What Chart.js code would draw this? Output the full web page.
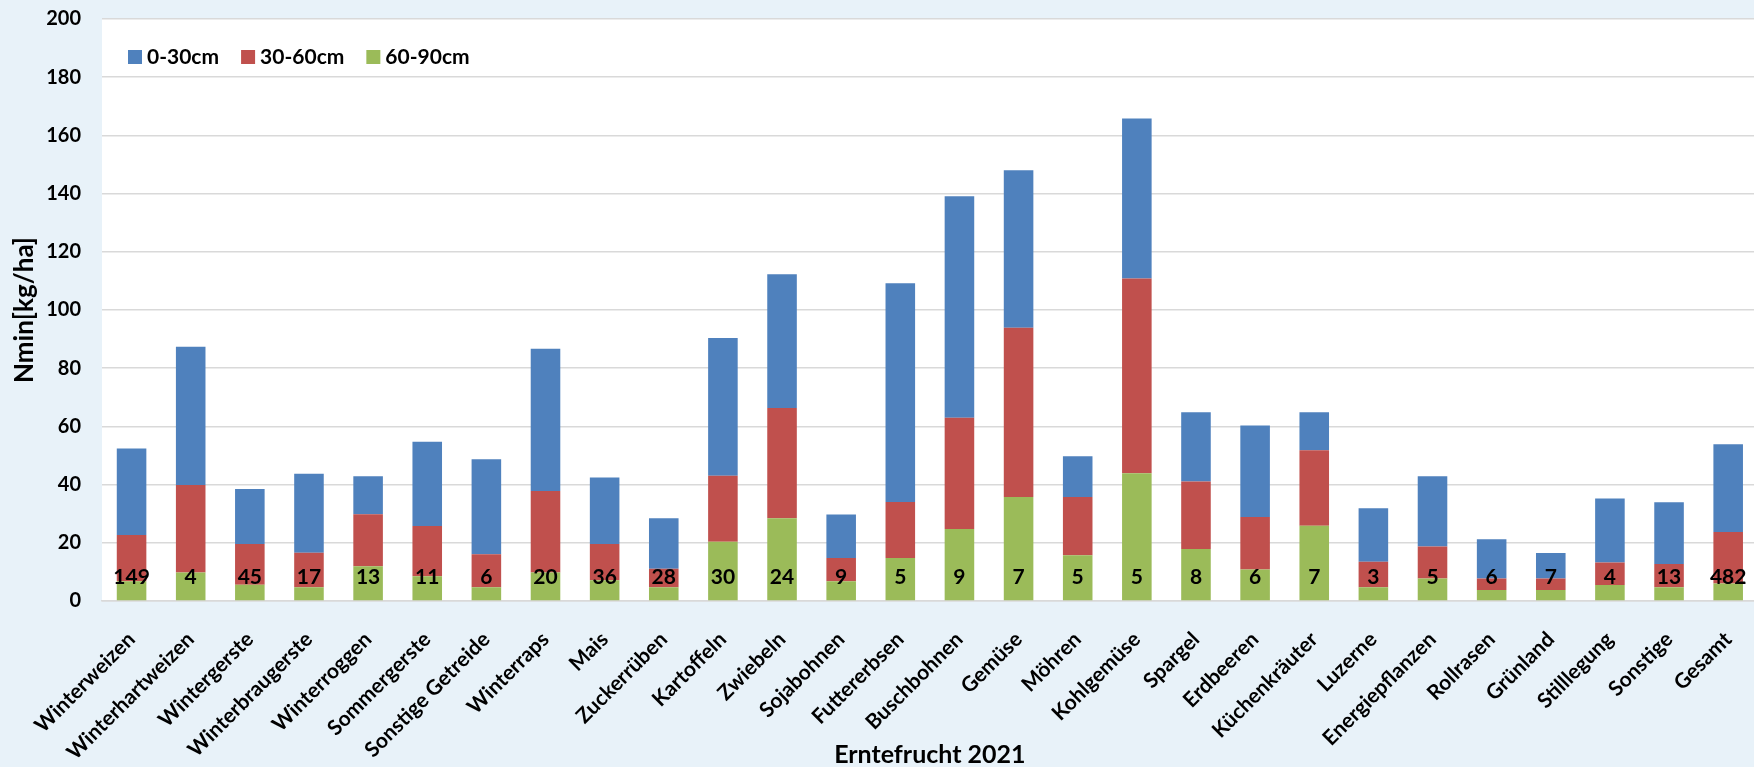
<!DOCTYPE html>
<html lang="de">
<head>
<meta charset="utf-8">
<title>Nmin Erntefrucht 2021</title>
<script src="https://cdn.jsdelivr.net/npm/chart.js@4.4.1/dist/chart.umd.min.js"></script>
<style>
    html, body {
        margin: 0;
        padding: 0;
        overflow: hidden;
        background: #e8f2f9;
    }
    .chart-box {
        width: 1764px;
        height: 767px;
    }
</style>
</head>
<body>
<div class="chart-box">
    <canvas id="nminChart"></canvas>
</div>
<script>
const crops = ['Winterweizen', 'Winterhartweizen', 'Wintergerste', 'Winterbraugerste', 'Winterroggen',
    'Sommergerste', 'Sonstige Getreide', 'Winterraps', 'Mais', 'Zuckerrüben', 'Kartoffeln', 'Zwiebeln',
    'Sojabohnen', 'Futtererbsen', 'Buschbohnen', 'Gemüse', 'Möhren', 'Kohlgemüse', 'Spargel', 'Erdbeeren',
    'Küchenkräuter', 'Luzerne', 'Energiepflanzen', 'Rollrasen', 'Grünland', 'Stilllegung', 'Sonstige', 'Gesamt'];

// Anzahl Proben je Kultur
const sampleCounts = [149, 4, 45, 17, 13, 11, 6, 20, 36, 28, 30, 24, 9, 5, 9, 7, 5, 5, 8, 6, 7, 3, 5, 6, 7, 4, 13, 482];

// Nmin kg/ha je Bodenschicht
const layer0to30 = [29.7, 47.5, 18.9, 27.1, 13.1, 28.9, 32.6, 48.9, 22.8, 17.3, 47.4, 46.0, 14.9, 75.2,
    76.1, 54.1, 14.0, 55.0, 23.8, 31.4, 13.1, 18.4, 24.2, 13.5, 8.8, 22.0, 21.2, 30.2];
const layer30to60 = [15.9, 30.1, 14.0, 11.9, 17.9, 17.3, 11.4, 28.0, 12.5, 6.4, 22.6, 37.9, 8.0, 19.2,
    38.3, 58.2, 20.0, 66.9, 23.2, 18.1, 25.9, 8.8, 11.0, 3.9, 3.9, 7.7, 8.0, 17.7];
const layer60to90 = [6.8, 9.8, 5.6, 4.7, 11.9, 8.5, 4.7, 9.8, 7.1, 4.7, 20.4, 28.4, 6.8, 14.8,
    24.7, 35.7, 15.7, 43.9, 17.9, 10.8, 25.9, 4.7, 7.7, 3.8, 3.8, 5.5, 4.7, 6.0];

const yTickMax = 200;
const yTickStep = 20;

const fontName = 'Lato, "Open Sans", sans-serif';

// weisse Plotflaeche hinter den Balken
const plotBackground = {
    id: 'plotBackground',
    beforeDraw(chart) {
        const { ctx, chartArea } = chart;
        ctx.save();
        ctx.fillStyle = '#ffffff';
        ctx.fillRect(chartArea.left, chartArea.top, chartArea.right - chartArea.left, chartArea.bottom - chartArea.top);
        ctx.restore();
    }
};

// Anzahl als Text unten in jedem Balken
const countLabels = {
    id: 'countLabels',
    afterDatasetsDraw(chart) {
        const { ctx } = chart;
        const xScale = chart.scales.x;
        const yScale = chart.scales.y;
        ctx.save();
        ctx.font = 'bold 21px ' + fontName;
        ctx.fillStyle = '#000000';
        ctx.textAlign = 'center';
        ctx.textBaseline = 'middle';
        sampleCounts.forEach((n, i) => {
            ctx.fillText(String(n), xScale.getPixelForValue(i), yScale.getPixelForValue(8));
        });
        ctx.restore();
    }
};

// Legende oben links in der Plotflaeche
const innerLegend = {
    id: 'innerLegend',
    afterDraw(chart) {
        const { ctx, chartArea } = chart;
        const items = chart.data.datasets.slice().reverse();
        let x = chartArea.left + 26;
        const y = chartArea.top + 38;
        ctx.save();
        ctx.font = 'bold 21px ' + fontName;
        ctx.textBaseline = 'middle';
        ctx.textAlign = 'left';
        items.forEach(ds => {
            ctx.fillStyle = ds.backgroundColor;
            ctx.fillRect(x, y - 7, 14, 14);
            x += 19;
            ctx.fillStyle = '#000000';
            ctx.fillText(ds.label, x, y);
            x += ctx.measureText(ds.label).width + 22;
        });
        ctx.restore();
    }
};

const ctx = document.getElementById('nminChart').getContext('2d');

new Chart(ctx, {
    type: 'bar',
    data: {
        labels: crops,
        datasets: [
            { label: '60-90cm', data: layer60to90, backgroundColor: '#9bbb59' },
            { label: '30-60cm', data: layer30to60, backgroundColor: '#c0504d' },
            { label: '0-30cm', data: layer0to30, backgroundColor: '#4f81bd' }
        ]
    },
    options: {
        responsive: true,
        maintainAspectRatio: false,
        animation: false,
        datasets: {
            bar: {
                barPercentage: 0.5,
                categoryPercentage: 1.0
            }
        },
        layout: {
            padding: { top: 19, right: 0, bottom: 0, left: 0 }
        },
        plugins: {
            legend: { display: false },
            tooltip: { enabled: false }
        },
        scales: {
            x: {
                stacked: true,
                grid: { display: false },
                border: { display: true, color: '#d9d9d9', width: 1.5 },
                ticks: {
                    color: '#000000',
                    font: { family: fontName, size: 21, weight: 'bold' },
                    minRotation: 45,
                    maxRotation: 45,
                    autoSkip: false,
                    padding: 18
                },
                title: {
                    display: true,
                    text: 'Erntefrucht 2021',
                    color: '#000000',
                    font: { family: fontName, size: 25, weight: 'bold', lineHeight: 1 },
                    padding: { top: 0, bottom: 0 }
                },
                afterFit(scale) {
                    scale.height = 166;
                }
            },
            y: {
                stacked: true,
                min: 0,
                max: yTickMax,
                grid: { color: '#d9d9d9', lineWidth: 1.5, drawTicks: false },
                border: { display: false },
                ticks: {
                    stepSize: yTickStep,
                    color: '#000000',
                    font: { family: fontName, size: 20, weight: 'bold' },
                    padding: 21
                },
                title: {
                    display: true,
                    text: 'Nmin[kg/ha]',
                    color: '#000000',
                    font: { family: fontName, size: 26, weight: 'bold', lineHeight: 1 },
                    padding: { top: 12, bottom: 0 }
                },
                afterFit(scale) {
                    scale.width = 102;
                    // Tick-Abstand nicht als Rand oben/unten rechnen
                    scale.paddingTop = 0;
                    scale.paddingBottom = 0;
                }
            }
        }
    },
    plugins: [plotBackground, countLabels, innerLegend]
});
</script>
</body>
</html>
